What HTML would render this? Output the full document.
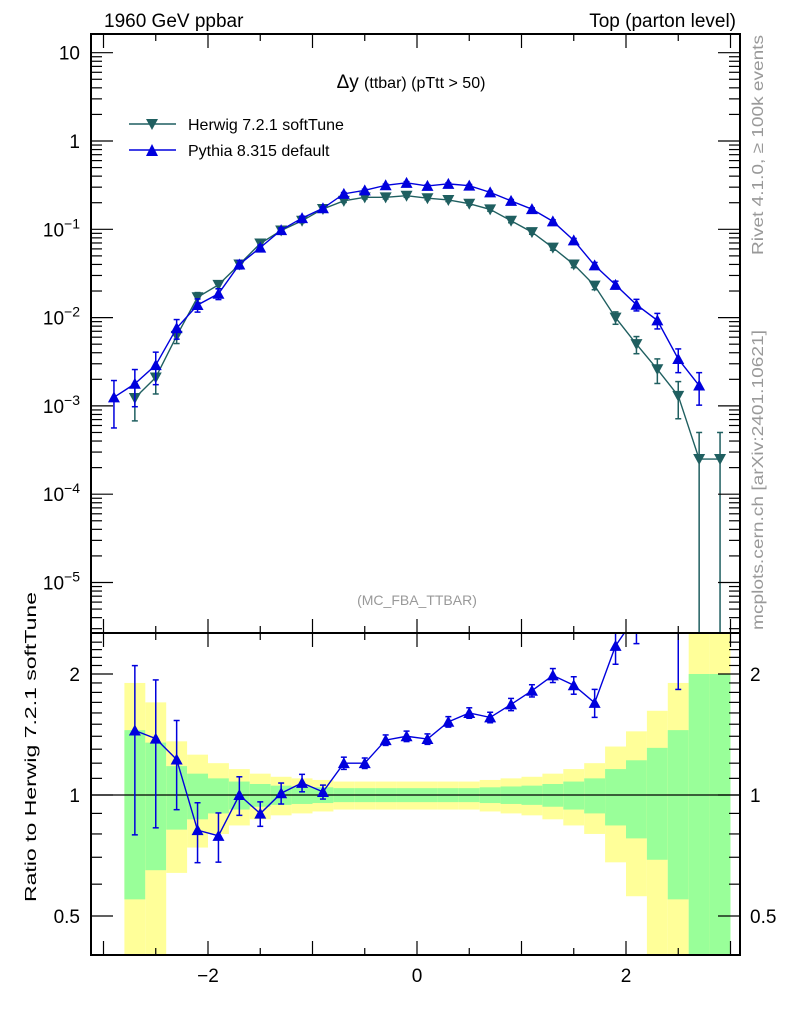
<!DOCTYPE html>
<html><head><meta charset="utf-8"><style>
body{margin:0;background:#fff}
svg text{font-family:"Liberation Sans",sans-serif}
</style></head><body>
<svg id="c" width="786" height="1024" xmlns="http://www.w3.org/2000/svg">
<text x="104" y="27" font-size="19">1960 GeV ppbar</text>
<text x="736" y="27" font-size="19" text-anchor="end">Top (parton level)</text>
<text x="411" y="88" font-size="19" text-anchor="middle">Δy <tspan font-size="16">(ttbar) (pTtt &gt; 50)</tspan></text>
<text x="417" y="605" font-size="14" fill="#999" text-anchor="middle">(MC_FBA_TTBAR)</text>
<text transform="translate(763,255) rotate(-90)" font-size="16" textLength="220" lengthAdjust="spacingAndGlyphs" fill="#999">Rivet 4.1.0, ≥ 100k events</text>
<text transform="translate(763,630) rotate(-90)" font-size="16" textLength="300" lengthAdjust="spacingAndGlyphs" fill="#999">mcplots.cern.ch [arXiv:2401.10621]</text>
<text transform="translate(36,902) rotate(-90)" font-size="16" textLength="310" lengthAdjust="spacingAndGlyphs">Ratio to Herwig 7.2.1 softTune</text>
<g id="bands"></g><g id="marks"></g><g id="axes"></g>
<g>
<line x1="129" y1="124" x2="176" y2="124" stroke="#1f5f60" stroke-width="1.5"/>
<path d="M146,119 L158,119 L152,130 Z" fill="#1f5f60"/>
<text x="188" y="130" font-size="16">Herwig 7.2.1 softTune</text>
<line x1="129" y1="150" x2="176" y2="150" stroke="#0000dd" stroke-width="1.5"/>
<path d="M146,156 L158,156 L152,144 Z" fill="#0000dd"/>
<text x="188" y="156" font-size="16">Pythia 8.315 default</text>
</g>
</svg>
<script>
const xs=[-2.9,-2.7,-2.5,-2.3,-2.1,-1.9,-1.7,-1.5,-1.3,-1.1,-0.9,-0.7,-0.5,-0.3,-0.1,0.1,0.3,0.5,0.7,0.9,1.1,1.3,1.5,1.7,1.9,2.1,2.3,2.5,2.7,2.9];
const herwig=[0,1.23e-3,2.1e-3,6.2e-3,0.017,0.0235,0.04,0.069,0.097,0.125,0.17,0.21,0.23,0.23,0.24,0.225,0.215,0.195,0.168,0.125,0.093,0.062,0.04,0.023,0.01,5e-3,2.6e-3,1.3e-3,2.5e-4,2.5e-4];
const herwigRelErr=[0,0.45,0.35,0.18,0.13,0.1,0.08,0.065,0.055,0.05,0.045,0.04,0.04,0.04,0.04,0.04,0.04,0.04,0.045,0.05,0.055,0.065,0.08,0.1,0.16,0.22,0.31,0.45,1.0,1.0];
const pythia=[1.25e-3,1.78e-3,2.9e-3,7.6e-3,0.0139,0.0186,0.04,0.062,0.098,0.134,0.173,0.252,0.276,0.315,0.336,0.31,0.327,0.312,0.262,0.21,0.169,0.123,0.075,0.039,0.0235,0.014,0.0093,0.0034,0.0017,0];
const pythiaRelErr=[0.55,0.45,0.4,0.25,0.17,0.14,0.11,0.07,0.06,0.05,0.04,0.035,0.03,0.03,0.03,0.03,0.03,0.03,0.03,0.035,0.035,0.04,0.05,0.08,0.1,0.15,0.2,0.3,0.4,0];
const xTicks=[-2,0,2];
const yTicks=[1,0,-1,-2,-3,-4,-5];
const rTicks=[0.5,1,2];
const NS="http://www.w3.org/2000/svg";
const L=91,R=740,T=34,M=633,B=955;
const X=v=>417+v*104.5;
const Y=v=>141-Math.log10(v)*88.3;
const YR=v=>795-Math.log2(v)*121;
function mk(p,tag,at){const e=document.createElementNS(NS,tag);for(const k in at)e.setAttribute(k,at[k]);p.appendChild(e);return e;}
const bands=document.getElementById('bands'),marks=document.getElementById('marks'),axes=document.getElementById('axes');
const cl=(y,a,b)=>Math.max(a,Math.min(b,y));
xs.forEach((x,i)=>{const s=herwigRelErr[i];if(!herwig[i])return;
 const x0=X(x-0.1),w=X(x+0.1)-x0;
 const yt=cl(YR(1+2*s),M,B),yb=1-2*s>0?cl(YR(1-2*s),M,B):B;
 let e=mk(bands,'rect',{x:x0,y:yt,width:w,height:yb-yt,fill:'#ffff99'});
 
 
 const gt=cl(YR(1+s),M,B),gb=1-s>0?cl(YR(1-s),M,B):B;
 e=mk(bands,'rect',{x:x0,y:gt,width:w,height:gb-gt,fill:'#99ff99'});
 
 
});
mk(bands,'line',{x1:L,x2:R,y1:795,y2:795,stroke:'#000','stroke-width':1.2});
function series(vals,errs,col,down,name){
 const pts=[];xs.forEach((x,i)=>{if(vals[i]>0)pts.push([X(x),Y(vals[i]),i]);});
 let p=mk(marks,'polyline',{points:pts.map(q=>q[0]+','+q[1]).join(' '),fill:'none',stroke:col,'stroke-width':1.4});
 
 
 pts.forEach(([px,py,i])=>{const v=vals[i],e=errs[i];
  const y1=Y(v*(1+e)),y2=v*(1-e)>0?Math.min(Y(v*(1-e)),M):M;
  mk(marks,'line',{x1:px,x2:px,y1:y1,y2:y2,stroke:col,'stroke-width':1.5});
  mk(marks,'line',{x1:px-3,x2:px+3,y1:y1,y2:y1,stroke:col,'stroke-width':1.5});
  if(y2<M)mk(marks,'line',{x1:px-3,x2:px+3,y1:y2,y2:y2,stroke:col,'stroke-width':1.5});
  const d=down?`M${px-6},${py-5} L${px+6},${py-5} L${px},${py+6} Z`:`M${px-6},${py+5} L${px+6},${py+5} L${px},${py-6} Z`;
  const m=mk(marks,'path',{d:d,fill:col});
  
  
 });
}
series(herwig,herwigRelErr,'#1f5f60',true,'herwig');
series(pythia,pythiaRelErr,'#0000dd',false,'pythia');
const cp=mk(marks,'clipPath',{id:'rc'});mk(cp,'rect',{x:L,y:M,width:R-L,height:B-M});
const rg=mk(marks,'g',{'clip-path':'url(#rc)'});
const rp=[];xs.forEach((x,i)=>{if(herwig[i]>0&&pythia[i]>0)rp.push([X(x),herwig[i],pythia[i],i]);});
const rl=mk(rg,'polyline',{points:rp.map(q=>q[0]+','+YR(q[2]/q[1])).join(' '),fill:'none',stroke:'#0000dd','stroke-width':1.4});


rp.forEach(([px,h,p,i])=>{const r=p/h,e=r*pythiaRelErr[i],py=YR(r);
 const y1=YR(r+e),y2=YR(Math.max(r-e,0.01));
 mk(rg,'line',{x1:px,x2:px,y1:y1,y2:y2,stroke:'#0000dd','stroke-width':1.5});
 mk(rg,'line',{x1:px-3,x2:px+3,y1:y1,y2:y1,stroke:'#0000dd','stroke-width':1.5});
 mk(rg,'line',{x1:px-3,x2:px+3,y1:y2,y2:y2,stroke:'#0000dd','stroke-width':1.5});
 const m=mk(rg,'path',{d:`M${px-6},${py+5} L${px+6},${py+5} L${px},${py-6} Z`,fill:'#0000dd'});
 
 
});
mk(axes,'rect',{x:L,y:T,width:R-L,height:M-T,fill:'none',stroke:'#000','stroke-width':2});
mk(axes,'rect',{x:L,y:M,width:R-L,height:B-M,fill:'none',stroke:'#000','stroke-width':2});
for(let v=-3;v<=3.01;v+=0.5){const x=X(v);if(x<L||x>R)continue;const big=Math.abs(v-Math.round(v))<0.01;const len=big?14:7;
 [[T,1],[M,-1],[M,1],[B,-1]].forEach(([y,d])=>mk(axes,'line',{x1:x,x2:x,y1:y,y2:y+d*len,stroke:'#000','stroke-width':1.2}));}
xTicks.forEach(v=>{const t=mk(axes,'text',{x:X(v),y:982,'font-size':19,'text-anchor':'middle'});t.textContent=(v<0?'−':'')+Math.abs(v);
 
 });
for(let d=-6;d<=1;d++){for(let k=1;k<10;k++){const y=Y(k*Math.pow(10,d));if(y<T||y>M)continue;const len=k==1?22:11;
 mk(axes,'line',{x1:L,x2:L+len,y1:y,y2:y,stroke:'#000','stroke-width':1.2});
 mk(axes,'line',{x1:R,x2:R-len,y1:y,y2:y,stroke:'#000','stroke-width':1.2});}}
yTicks.forEach(d=>{const y=Y(Math.pow(10,d))+7;let t;
 t=mk(axes,'text',{x:80,y:y,'font-size':19,'text-anchor':'end'});
 if(d==1)t.textContent='10';
 else if(d==0)t.textContent='1';
 else t.innerHTML='10<tspan dy="-8" font-size="14">'+(d<0?'−':'')+Math.abs(d)+'</tspan>';
 
 });
for(let v=0.4;v<=2.5;v+=0.1){const y=YR(v);if(y<M||y>B)continue;const big=[0.5,1,2].some(q=>Math.abs(q-v)<1e-6);const len=big?22:11;
 mk(axes,'line',{x1:L,x2:L+len,y1:y,y2:y,stroke:'#000','stroke-width':1.2});
 mk(axes,'line',{x1:R,x2:R-len,y1:y,y2:y,stroke:'#000','stroke-width':1.2});}
rTicks.forEach(v=>{[[80,'end'],[750,'start']].forEach(([x,a])=>{const t=mk(axes,'text',{x:x,y:YR(v)+7,'font-size':19,'text-anchor':a});t.textContent=String(v);
 
 });});
</script>
</body></html>
